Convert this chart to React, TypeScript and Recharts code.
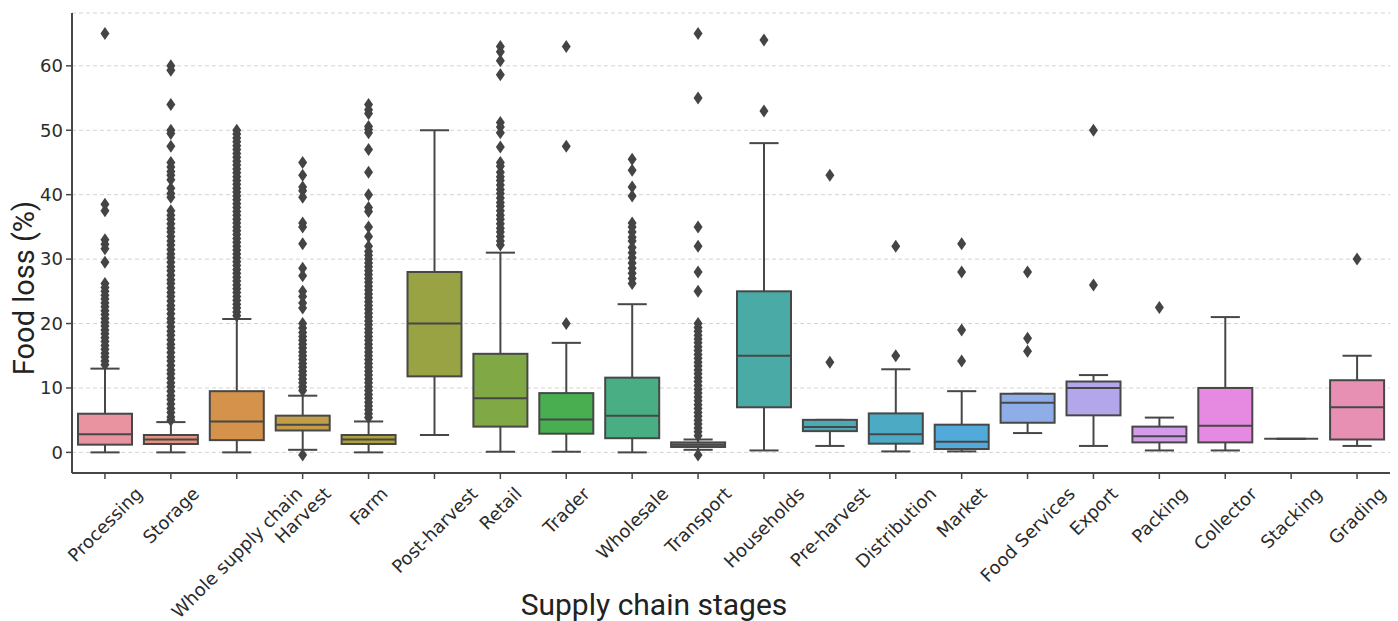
import React from 'react';
import { ComposedChart, Bar, Scatter, XAxis, YAxis, CartesianGrid, Label } from 'recharts';

const categories = [
  'Processing', 'Storage', 'Whole supply chain', 'Harvest', 'Farm', 'Post-harvest', 'Retail',
  'Trader', 'Wholesale', 'Transport', 'Households', 'Pre-harvest', 'Distribution', 'Market',
  'Food Services', 'Export', 'Packing', 'Collector', 'Stacking', 'Grading',
];

const whiskerLow = [0, 0, 0, 0.4, 0, 2.7, 0.1, 0.1, 0, 0.4, 0.3, 1.0, 0.15, 0.15, 3.0, 1.0, 0.3, 0.3, 2.1, 1.0];
const q1 = [1.2, 1.3, 1.9, 3.4, 1.3, 11.8, 4.0, 2.9, 2.2, 0.84, 7.0, 3.3, 1.35, 0.52, 4.6, 5.75, 1.55, 1.55, 2.1, 2.0];
const median = [2.8, 2.0, 4.8, 4.3, 2.0, 20.0, 8.4, 5.1, 5.7, 1.2, 15.0, 3.95, 2.8, 1.66, 7.7, 10.0, 2.5, 4.15, 2.1, 7.0];
const q3 = [6.0, 2.7, 9.5, 5.7, 2.7, 28.0, 15.3, 9.2, 11.6, 1.55, 25.0, 5.05, 6.05, 4.3, 9.1, 11.0, 4.0, 10.0, 2.1, 11.2];
const whiskerHigh = [13.0, 4.7, 20.7, 8.8, 4.8, 50.0, 31.0, 17.0, 23.0, 2.0, 48.0, 5.05, 12.9, 9.5, 9.1, 12.0, 5.4, 21.0, 2.1, 15.0];

const boxColors = [
  '#E8939F', '#E5917F', '#D4924B', '#C49D48', '#ADA03D', '#99A344', '#80A845',
  '#48AE50', '#49AE83', '#47AB98', '#4AABA6', '#4AAAB5', '#4CAAC4', '#52AADB',
  '#8FADE6', '#B3A6EB', '#D29CEA', '#E58AE0', '#E88DC6', '#E890B3',
];

const yTicks = [0, 10, 20, 30, 40, 50, 60];

const outProcessing = [65, 38.5, 37.5, 33, 32.3, 31.6, 29.5, 26.2, 25.6, 25, 24.4, 23.8, 23.2, 22.6, 22, 21.4, 20.8, 20.2, 19.6, 19, 18.4, 17.8, 17.2, 16.6, 16, 15.4, 14.8, 14.2, 13.6];
const outStorage = [60, 59.3, 54, 50, 49.5, 47.5, 45, 44.3, 43.6, 43, 42.3, 41, 40.2, 39.6, 37.5, 36.8, 36.2, 35.5, 34.8, 34.2, 33.5, 32.8, 32.2, 31.5, 30.8, 30.2, 29.5, 28.8, 28.2, 27.5, 26.8, 26.2, 25.5, 24.8, 24.2, 23.5, 22.8, 22.2, 21.5, 20.8, 20.2, 19.5, 18.8, 18.2, 17.5, 16.8, 16.2, 15.5, 14.8, 14.2, 13.5, 12.8, 12.2, 11.5, 10.8, 10.2, 9.5, 8.8, 8.2, 7.5, 6.8, 6.2, 5.5, 5];
const outWhole = [50, 49.4, 48.8, 48.2, 47.6, 47, 46.4, 45.8, 45.2, 44.6, 44, 43.4, 42.8, 42.2, 41.6, 41, 40.4, 39.8, 39.2, 38.6, 38, 37.4, 36.8, 36.2, 35.6, 35, 34.4, 33.8, 33.2, 32.6, 32, 31.4, 30.8, 30.2, 29.6, 29, 28.4, 27.8, 27.2, 26.6, 26, 25.4, 24.8, 24.2, 23.6, 23, 22.4, 21.8, 21.2];
const outHarvest = [45, 43, 41.2, 40.6, 39.6, 35.6, 35, 32.4, 28.6, 27.4, 25, 24.2, 23.2, 22.4, 20, 19.3, 18.6, 18, 17.4, 16.8, 16.2, 15.6, 15, 14.4, 13.8, 13.2, 12.6, 12, 11.4, 10.8, 10.2, 9.6, -0.4];
const outFarm = [54, 53.2, 52.6, 50.6, 50.1, 49.6, 47, 43.5, 40, 38, 37.4, 35, 33.5, 32, 31.2, 30.6, 30, 29.4, 28.8, 28.2, 27.6, 27, 26.4, 25.8, 25.2, 24.6, 24, 23.4, 22.8, 22.2, 21.6, 21, 20.4, 19.8, 19.2, 18.6, 18, 17.4, 16.8, 16.2, 15.6, 15, 14.4, 13.8, 13.2, 12.6, 12, 11.4, 10.8, 10.2, 9.6, 9, 8.4, 7.8, 7.2, 6.6, 6, 5.4];
const outPostHarvest: number[] = [];
const outRetail = [63, 62.2, 60.8, 58.6, 51.2, 50.5, 49.6, 47.4, 45, 44.4, 43.5, 42.8, 42.2, 41.5, 40.8, 40.2, 39.5, 38.8, 38.2, 37.5, 36.8, 36.2, 35.5, 34.8, 34.2, 33.5, 32.8, 32.2];
const outTrader = [63, 47.5, 20];
const outWholesale = [45.5, 43.8, 41.2, 39.8, 35.6, 35, 34.2, 33.4, 32.8, 31.8, 31, 30.2, 29.4, 28.6, 27.8, 27, 26.2];
const outTransport = [65, 55, 35, 32, 28, 25, 20, 19.4, 18.8, 18.2, 17.6, 17, 16.4, 15.8, 15.2, 14.6, 14, 13.4, 12.8, 12.2, 11.6, 11, 10.4, 9.8, 9.2, 8.6, 8, 7.4, 6.8, 6.2, 5.6, 5, 4.4, 3.8, 3.2, 2.6, -0.4];
const outHouseholds = [64, 53];
const outPreHarvest = [43, 14];
const outDistribution = [32, 15];
const outMarket = [32.4, 28, 19, 14.2];
const outFoodServices = [28, 17.7, 15.7];
const outExport = [50, 26];
const outPacking = [22.5];
const outCollector: number[] = [];
const outStacking: number[] = [];
const outGrading = [30];

const outliers = [
  outProcessing, outStorage, outWhole, outHarvest, outFarm, outPostHarvest, outRetail, outTrader,
  outWholesale, outTransport, outHouseholds, outPreHarvest, outDistribution, outMarket,
  outFoodServices, outExport, outPacking, outCollector, outStacking, outGrading,
];

const data = categories.map((name, i) => ({
  name,
  range: [whiskerLow[i], whiskerHigh[i]],
  low: whiskerLow[i],
  q1: q1[i],
  med: median[i],
  q3: q3[i],
  high: whiskerHigh[i],
  color: boxColors[i],
}));

const outlierPoints = outliers.flatMap((vals, i) => vals.map((v) => ({ name: categories[i], value: v })));

const LINE = '#474747';
const TEXT = '#2b2b2b';

function BoxShape(props: any) {
  const { x, y, width, height } = props;
  const p = props.payload ?? props;
  if (x == null || y == null || p == null) return null;
  const top = Math.min(y, y + (height || 0));
  const h = Math.abs(height || 0);
  const { low, q1: b1, med, q3: b3, high, color } = p;
  const span = high - low;
  const py = (v: number) => (span === 0 ? top : top + ((high - v) / span) * h);
  const cx = x + width / 2;
  const capHalf = width * 0.27;
  return (
    <g>
      <line x1={cx} x2={cx} y1={py(high)} y2={py(b3)} stroke={LINE} strokeWidth={2} />
      <line x1={cx} x2={cx} y1={py(b1)} y2={py(low)} stroke={LINE} strokeWidth={2} />
      <line x1={cx - capHalf} x2={cx + capHalf} y1={py(high)} y2={py(high)} stroke={LINE} strokeWidth={2} />
      <line x1={cx - capHalf} x2={cx + capHalf} y1={py(low)} y2={py(low)} stroke={LINE} strokeWidth={2} />
      <rect x={x} y={py(b3)} width={width} height={Math.max(0, py(b1) - py(b3))} fill={color} stroke={LINE} strokeWidth={2} />
      <line x1={x} x2={x + width} y1={py(med)} y2={py(med)} stroke={LINE} strokeWidth={2} />
    </g>
  );
}

function Diamond(props: any) {
  const { cx, cy } = props;
  if (cx == null || cy == null) return null;
  const hw = 4.5;
  const hh = 6.5;
  return <polygon points={`${cx},${cy - hh} ${cx + hw},${cy} ${cx},${cy + hh} ${cx - hw},${cy}`} fill="#444444" />;
}

const widthCache: Record<string, number> = {};
function measure(text: string, fs: number): number {
  const key = `${fs}|${text}`;
  if (widthCache[key] != null) return widthCache[key];
  let w = text.length * fs * 0.58;
  try {
    const c = document.createElement('canvas').getContext('2d');
    if (c) {
      c.font = `${fs}px "DejaVu Sans"`;
      w = c.measureText(text).width;
    }
  } catch (e) {
    // keep estimate
  }
  widthCache[key] = w;
  return w;
}

function XTick(props: any) {
  const { x, y, payload } = props;
  const label = String(payload.value);
  const fs = 18;
  const w = measure(label, fs);
  const bh = (w + fs) * Math.SQRT1_2;
  const cy = y + bh / 2;
  return (
    <text
      x={x}
      y={cy}
      textAnchor="middle"
      dominantBaseline="central"
      transform={`rotate(-45 ${x} ${cy})`}
      fontFamily="DejaVu Sans"
      fontSize={fs}
      fill={TEXT}
    >
      {label}
    </text>
  );
}

export default function App() {
  return (
    <div style={{ width: 1390, height: 613 }}>
      <ComposedChart
        width={1390}
        height={613}
        data={data}
        margin={{ top: 5, right: 8, left: 0, bottom: 0 }}
      >
        <CartesianGrid vertical={false} stroke="#d4d4d4" strokeDasharray="4 3" />
        <XAxis
          dataKey="name"
          type="category"
          allowDuplicatedCategory={false}
          interval={0}
          height={148}
          tick={<XTick />}
          tickSize={6}
          tickMargin={5}
          tickLine={{ stroke: LINE, strokeWidth: 1.5 }}
          axisLine={{ stroke: LINE, strokeWidth: 2 }}
        >
          <Label
            content={() => (
              <text x={646} y={607} textAnchor="middle" fontFamily="Roboto" fontSize={30} fill="#222">
                Supply chain stages
              </text>
            )}
          />
        </XAxis>
        <YAxis
          type="number"
          domain={[-3.2, 68.2]}
          ticks={yTicks}
          allowDataOverflow
          width={64}
          tickSize={6}
          tickMargin={3}
          tick={{ fontFamily: 'DejaVu Sans', fontSize: 18, fill: TEXT }}
          tickLine={{ stroke: LINE, strokeWidth: 1.5 }}
          axisLine={{ stroke: LINE, strokeWidth: 2 }}
        >
          <Label
            content={() => (
              <text
                x={16}
                y={280}
                textAnchor="middle"
                dominantBaseline="central"
                transform="rotate(-90 16 280)"
                fontFamily="Roboto"
                fontSize={29}
                fill="#222"
              >
                Food loss (%)
              </text>
            )}
          />
        </YAxis>
        <Bar dataKey="range" barSize={54} shape={<BoxShape />} isAnimationActive={false} />
        <Scatter data={outlierPoints} dataKey="value" shape={<Diamond />} isAnimationActive={false} />
      </ComposedChart>
    </div>
  );
}
